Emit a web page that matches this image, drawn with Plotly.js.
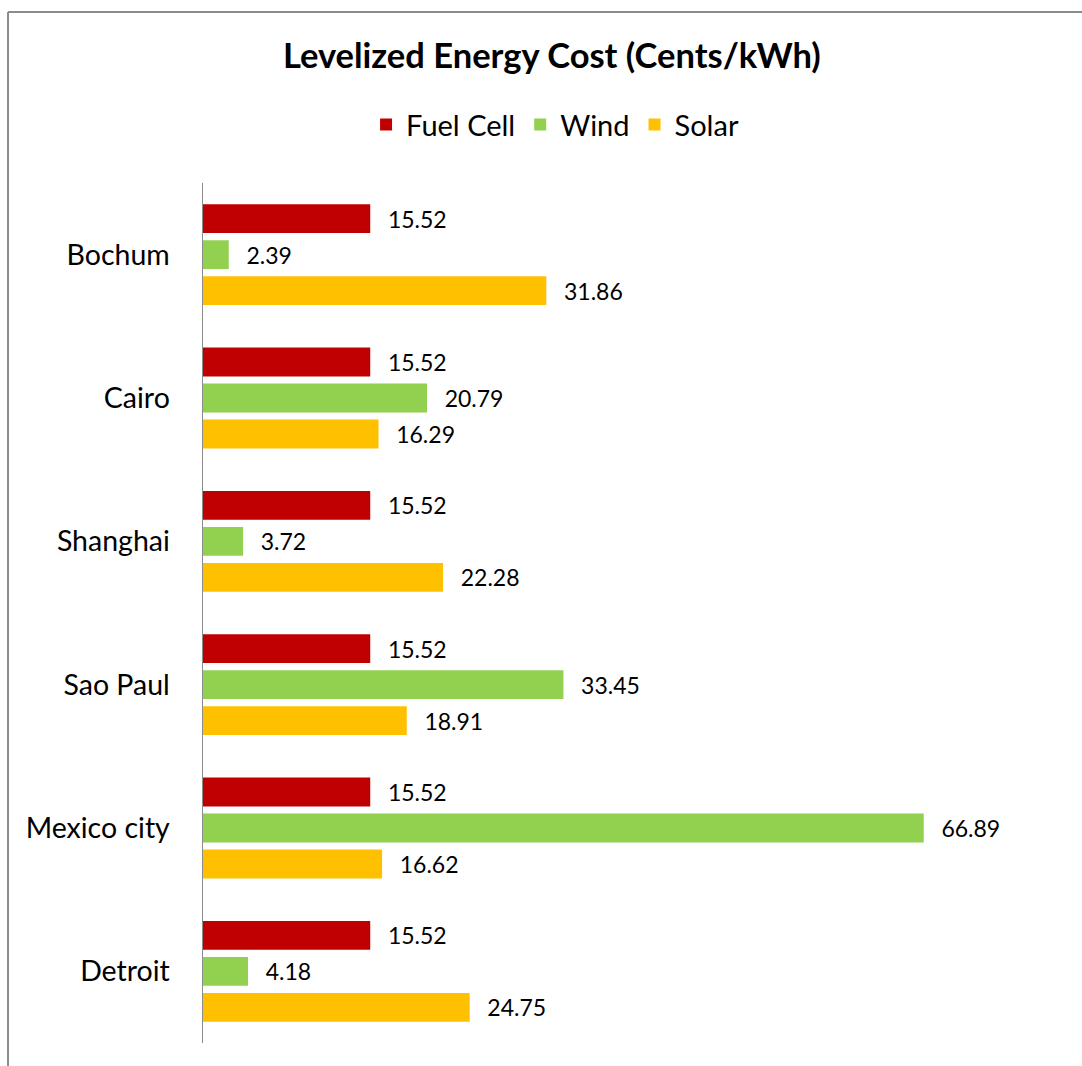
<!DOCTYPE html>
<html>
<head>
<meta charset="utf-8">
<script src="https://cdn.plot.ly/plotly-3.0.1.min.js"></script>
<style>
  html, body { margin: 0; padding: 0; background: #ffffff; }
  #chart { width: 1082px; height: 1066px; }
</style>
</head>
<body>
<div id="chart"></div>
<script>
const cities = ["Bochum", "Cairo", "Shanghai", "Sao Paul", "Mexico city", "Detroit"];
const fuelCell = [15.52, 15.52, 15.52, 15.52, 15.52, 15.52];
const wind = [2.39, 20.79, 3.72, 33.45, 66.89, 4.18];
const solar = [31.86, 16.29, 22.28, 18.91, 16.62, 24.75];
const seriesNames = ["Fuel Cell", "Wind", "Solar"];
const seriesColors = ["#C00000", "#92D050", "#FFC000"];

const FONT = "Lato, 'Open Sans', sans-serif";
const pad = "\u00a0\u00a0\u2009";

function makeTrace(name, values, color) {
  return {
    type: "bar",
    orientation: "h",
    name: name,
    y: cities,
    x: values,
    marker: { color: color, line: { width: 0 } },
    text: values.map(v => pad + v.toFixed(2)),
    textposition: "outside",
    constraintext: "none",
    cliponaxis: false,
    textfont: { family: FONT, size: 23, color: "#000000" },
    hoverinfo: "x+name"
  };
}

const data = [
  makeTrace(seriesNames[0], fuelCell, seriesColors[0]),
  makeTrace(seriesNames[1], wind, seriesColors[1]),
  makeTrace(seriesNames[2], solar, seriesColors[2])
];

const layout = {
  width: 1082,
  height: 1066,
  margin: { l: 203, r: 17, t: 183, b: 23 },
  paper_bgcolor: "#ffffff",
  plot_bgcolor: "#ffffff",
  font: { family: FONT, color: "#000000" },
  title: {
    text: "<b>Levelized Energy Cost (Cents/kWh)</b>",
    font: { family: FONT, size: 34.5, color: "#000000" },
    x: 0.510, xref: "container", xanchor: "center",
    y: 0.948, yref: "container", yanchor: "middle"
  },
  showlegend: true,
  legend: {
    orientation: "h",
    x: 0.513, xref: "container", xanchor: "center",
    y: 0.883, yref: "container", yanchor: "middle",
    font: { family: FONT, size: 29, color: "#000000" },
    traceorder: "normal",
    itemwidth: 30
  },
  barmode: "group",
  bargap: 0.246,
  bargroupgap: 0.2,
  xaxis: {
    range: [0, 80],
    visible: false,
    showgrid: false,
    zeroline: false
  },
  yaxis: {
    autorange: "reversed",
    showline: true,
    linecolor: "#8c8c8c",
    linewidth: 1.5,
    ticks: "",
    showgrid: false,
    zeroline: false,
    ticklabelstandoff: 26,
    tickfont: { family: FONT, size: 28.5, color: "#000000" }
  },
  shapes: [
    { type: "line", xref: "paper", yref: "paper", x0: -0.2262, x1: -0.2262, y0: -0.1, y1: 1.1988,
      line: { color: "#8c8c8c", width: 2 } },
    { type: "line", xref: "paper", yref: "paper", x0: -0.2262, x1: 1.1, y0: 1.1988, y1: 1.1988,
      line: { color: "#8c8c8c", width: 2 } }
  ]
};

Plotly.newPlot("chart", data, layout, { displayModeBar: false, staticPlot: true });
</script>
</body>
</html>
